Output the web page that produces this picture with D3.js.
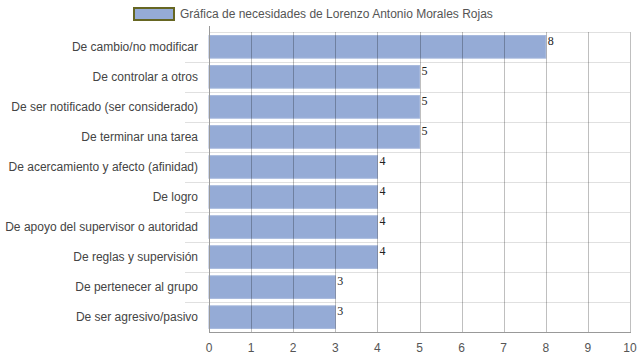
<!DOCTYPE html>
<html lang="en">
<head>
<meta charset="UTF-8">
<script src="https://d3js.org/d3.v7.min.js"></script>
<title>Necesidades</title>
<style>
    body { margin: 0; background: white; }
    text { font-family: "Liberation Sans", Arial, sans-serif; }
    text.val { font-family: "Liberation Serif", "Times New Roman", serif; }
</style>
</head>
<body>
<script>
    // categories and values, top to bottom
    const categories = [
        "De cambio/no modificar",
        "De controlar a otros",
        "De ser notificado (ser considerado)",
        "De terminar una tarea",
        "De acercamiento y afecto (afinidad)",
        "De logro",
        "De apoyo del supervisor o autoridad",
        "De reglas y supervisión",
        "De pertenecer al grupo",
        "De ser agresivo/pasivo"
    ];
    const values = [8, 5, 5, 5, 4, 4, 4, 4, 3, 3];
    const xTicks = [0, 1, 2, 3, 4, 5, 6, 7, 8, 9, 10];
    const legendLabel = "Gráfica de necesidades de Lorenzo Antonio Morales Rojas";

    const width = 639, height = 360;
    const plot = { left: 209, right: 630, top: 32, bottom: 332 };

    const svg = d3.select("body").append("svg")
        .attr("width", width)
        .attr("height", height);

    const x = d3.scaleLinear().domain([0, 10]).range([plot.left, plot.right]);
    const y = d3.scaleBand().domain(categories).range([plot.top, plot.bottom]).paddingInner(0.25).paddingOuter(0.12);
    const row = d3.scaleBand().domain(categories).range([plot.top, plot.bottom]);

    // horizontal row separators
    svg.append("g").selectAll("line")
        .data(categories.slice(1))
        .enter().append("line")
        .attr("x1", 185).attr("x2", plot.right)
        .attr("y1", d => row(d) + 0.5).attr("y2", d => row(d) + 0.5)
        .attr("stroke", "#e0e0e0");
    svg.append("line")
        .attr("x1", plot.left).attr("x2", plot.right)
        .attr("y1", plot.top + 0.5).attr("y2", plot.top + 0.5)
        .attr("stroke", "#e0e0e0");

    // bars
    svg.append("g").selectAll("rect")
        .data(categories)
        .enter().append("rect")
        .attr("x", x(0))
        .attr("y", d => y(d))
        .attr("width", (d, i) => x(values[i]) - x(0))
        .attr("height", y.bandwidth())
        .attr("fill", "#95abd6")
        .attr("stroke", "#a3b6dc")
        .attr("stroke-width", 1);

    // vertical grid lines (drawn over bars)
    svg.append("g").selectAll("line")
        .data(xTicks)
        .enter().append("line")
        .attr("x1", d => Math.round(x(d)) + 0.5).attr("x2", d => Math.round(x(d)) + 0.5)
        .attr("y1", plot.top).attr("y2", plot.bottom)
        .attr("stroke", "rgba(0,0,0,0.25)");

    // left axis line
    svg.append("line")
        .attr("x1", plot.left + 0.5).attr("x2", plot.left + 0.5)
        .attr("y1", plot.top - 6).attr("y2", plot.bottom)
        .attr("stroke", "#999");
    // bottom axis line
    svg.append("line")
        .attr("x1", plot.left).attr("x2", plot.right + 1)
        .attr("y1", plot.bottom + 0.5).attr("y2", plot.bottom + 0.5)
        .attr("stroke", "#999");

    // category labels
    svg.append("g").selectAll("text")
        .data(categories)
        .enter().append("text")
        .attr("x", 198)
        .attr("y", d => row(d) + row.bandwidth() / 2 + 4)
        .attr("text-anchor", "end")
        .attr("font-size", 12)
        .attr("fill", "#444")
        .text(d => d);

    // x tick labels
    svg.append("g").selectAll("text")
        .data(xTicks)
        .enter().append("text")
        .attr("x", d => x(d))
        .attr("y", 352)
        .attr("text-anchor", "middle")
        .attr("font-size", 12)
        .attr("fill", "#555")
        .text(d => d);

    // value labels
    svg.append("g").selectAll("text")
        .data(categories)
        .enter().append("text")
        .attr("class", "val")
        .attr("x", (d, i) => x(values[i]) + 2)
        .attr("y", d => y(d) + 9)
        .attr("font-size", 12)
        .attr("fill", "#222")
        .text((d, i) => values[i]);

    // legend
    svg.append("rect")
        .attr("x", 134).attr("y", 8)
        .attr("width", 40).attr("height", 12)
        .attr("fill", "#95abd6")
        .attr("stroke", "#666622")
        .attr("stroke-width", 2);
    svg.append("text")
        .attr("x", 180).attr("y", 18)
        .attr("font-size", 12)
        .attr("fill", "#555")
        .text(legendLabel);
</script>
</body>
</html>
